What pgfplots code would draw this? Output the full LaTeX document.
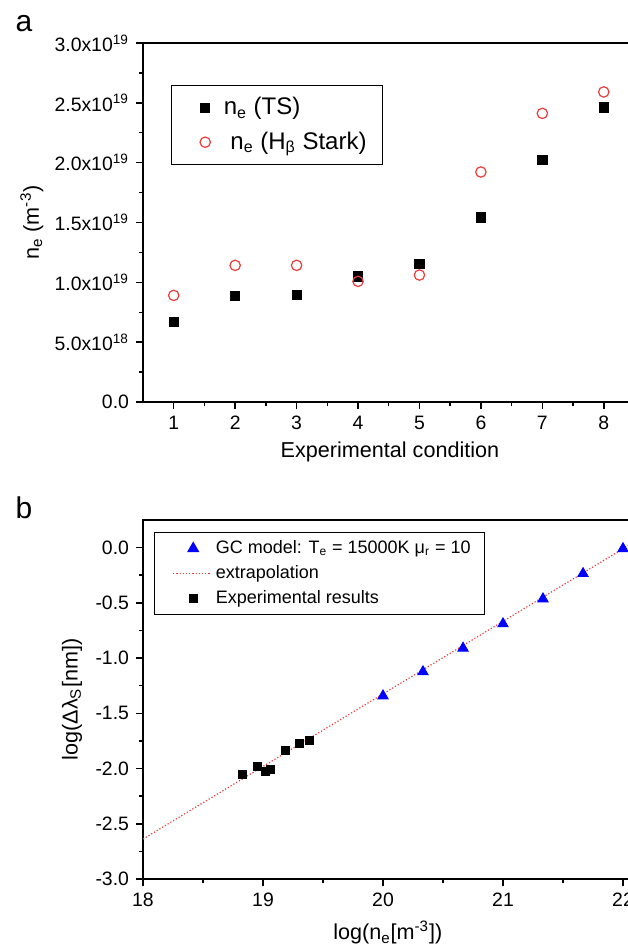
\documentclass[border=0pt]{standalone}
\usepackage{fontspec}
\setmainfont{Liberation Sans}
\usepackage{pgfplots}
\pgfplotsset{compat=1.18}
\definecolor{cred}{RGB}{235,60,60}
\definecolor{cblue}{RGB}{0,0,255}
\pgfplotsset{
  common/.style={
    scale only axis,
    anchor=south west,
    tick align=outside,
    xtick pos=bottom, ytick pos=left,
    major tick length=3.5pt, minor tick length=2pt,
    axis line style={line width=0.75pt},
    every tick/.style={line width=0.75pt, black},
    every minor tick/.style={line width=0.75pt, black},
    tick label style={font=\fontsize{9.7}{11}\selectfont},
    label style={font=\fontsize{10.8}{13}\selectfont},
    /pgf/number format/assume math mode=true,
    scaled ticks=false,
    legend cell align=left,
  },
  legmarka/.style={legend image code/.code={\path (0pt,0pt) (17.5pt,0pt); \draw[##1] plot coordinates {(10.5pt,0pt)};}},
  legmarkb/.style={legend image code/.code={\path (0pt,0pt) (23pt,0pt); \draw[##1] plot coordinates {(14pt,0pt)};}},
  leglineb/.style={legend image code/.code={\path (0pt,0pt) (23pt,0pt); \draw[##1] (4pt,0pt) -- (23pt,0pt);}},
}
\begin{document}
\begin{tikzpicture}
% panel a
\begin{axis}[common,
  at={(71.5pt,-201pt)}, width=245.75pt, height=179.5pt,
  xmin=0.5, xmax=8.5, ymin=0, ymax=3e19,
  xtick={1,2,3,4,5,6,7,8}, minor x tick num=1,
  ytick={0,5e18,1e19,1.5e19,2e19,2.5e19,3e19},
  yticklabels={0.0,5.0x10\textsuperscript{18},1.0x10\textsuperscript{19},1.5x10\textsuperscript{19},2.0x10\textsuperscript{19},2.5x10\textsuperscript{19},3.0x10\textsuperscript{19}},
  minor y tick num=1,
  xlabel={Experimental condition},
  ylabel={n\textsubscript{e} (m\textsuperscript{-3})},
  xlabel style={at={(axis description cs:0.5025,-0.139)}, anchor=center},
  ylabel style={at={(axis description cs:-0.226,0.5)}, anchor=center},
  legend style={at={(0.057,0.883)}, anchor=north west, draw=black, line width=0.6pt,
    font=\fontsize{12}{14}\selectfont, row sep=3pt, inner xsep=6pt, inner ysep=4pt},
]
\addplot[only marks, mark=square*, mark size=2.3pt, black, legmarka] coordinates {
(1,0.671e19) (2,0.889e19) (3,0.894e19) (4,1.050e19) (5,1.156e19) (6,1.543e19) (7,2.025e19) (8,2.462e19)};
\addlegendentry{n\textsubscript{e} (TS)}
\addplot[only marks, mark=o, mark size=2.6pt, cred, mark options={line width=0.6pt}, legmarka] coordinates {
(1,0.891e19) (2,1.142e19) (3,1.142e19) (4,1.008e19) (5,1.061e19) (6,1.922e19) (7,2.412e19) (8,2.591e19)};
\addlegendentry{\hspace{3.3pt}n\textsubscript{e} (H\textsubscript{β} Stark)}
\end{axis}
% panel b
\begin{axis}[common,
  at={(71.5pt,-439.5pt)}, width=255pt, height=179.5pt,
  xmin=18, xmax=22.25, ymin=-3.0, ymax=0.25,
  xtick={18,19,20,21,22}, minor x tick num=1,
  ytick={-3,-2.5,-2,-1.5,-1,-0.5,0},
  yticklabels={-3.0,-2.5,-2.0,-1.5,-1.0,-0.5,0.0},
  minor y tick num=1,
  xlabel={log(n\textsubscript{e}[m\textsuperscript{-3}])},
  ylabel={log(Δλ\textsubscript{S}[nm])},
  xlabel style={at={(axis description cs:0.48,-0.150)}, anchor=center},
  ylabel style={at={(axis description cs:-0.139,0.5)}, anchor=center},
  legend style={at={(0.0216,0.9666)}, anchor=north west, draw=black, line width=0.6pt,
    font=\fontsize{9}{10.5}\selectfont, row sep=0.5pt, inner xsep=5pt, inner ysep=2pt},
]
\addplot[only marks, mark=triangle*, mark size=3pt, cblue, legmarkb] coordinates {
(20,-1.342) (20.333,-1.124) (20.667,-0.910) (21,-0.690) (21.333,-0.464) (21.667,-0.235) (22,-0.009)};
\addlegendentry{GC model: T\textsubscript{e} = 15000K μ\textsubscript{r} = 10}
\addplot[cred, densely dotted, line width=0.6pt, leglineb] coordinates {(18,-2.638) (22.25,0.154)};
\addlegendentry{extrapolation}
\addplot[only marks, mark=square*, mark size=2pt, black, legmarkb] coordinates {
(18.827,-2.056) (18.95,-1.984) (19.017,-2.026) (19.063,-2.008) (19.187,-1.836) (19.303,-1.770) (19.39,-1.749)};
\addlegendentry{Experimental results}
\end{axis}
\node[font=\fontsize{15}{18}\selectfont] at (12pt,-12pt) {a};
\node[font=\fontsize{15}{18}\selectfont] at (12pt,-254pt) {b};
\pgfresetboundingbox
\useasboundingbox (0pt,0pt) rectangle (313.5pt,-473pt);
\end{tikzpicture}
\end{document}
